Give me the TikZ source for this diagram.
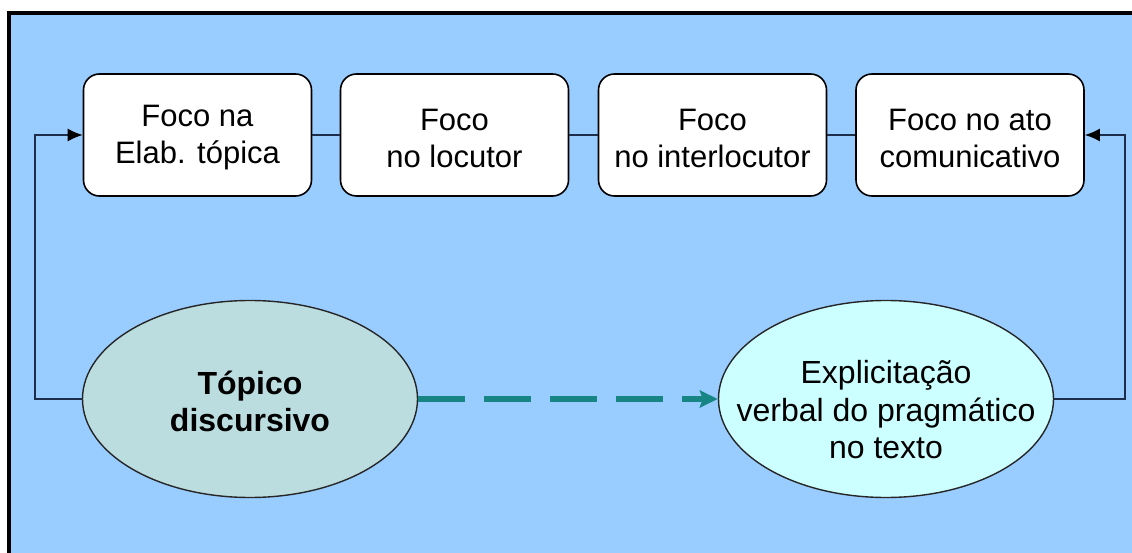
\documentclass[tikz,border=0pt]{standalone}
\usepackage{fontspec}
\setmainfont{Liberation Sans}
\usetikzlibrary{shapes.geometric,arrows.meta}
\definecolor{panelblue}{HTML}{99CCFF}
\definecolor{topicfill}{HTML}{BCDDDF}
\definecolor{explfill}{HTML}{CCFFFF}
\definecolor{linkcol}{HTML}{1E2E4A}
\definecolor{dashteal}{HTML}{178584}
\tikzset{
  focusbox/.style={draw=black, line width=1.6pt, fill=white, rounded corners=16pt,
    minimum width=228pt, minimum height=122pt, inner sep=0pt},
  boxtext/.style={inner sep=0pt, align=center, font=\fontsize{31}{37}\selectfont},
  oval/.style={ellipse, draw=black!85, line width=1.4pt, minimum width=335pt,
    minimum height=197pt, inner sep=0pt},
  ovaltext/.style={inner sep=0pt, align=center, font=\fontsize{32}{37.5}\selectfont},
  link/.style={draw=linkcol, line width=1.6pt},
  looparrow/.style={link, -{Latex[length=15pt,width=13pt,color=black]}},
  dashlink/.style={draw=dashteal, line width=6pt, dash pattern=on 47pt off 19pt,
    -{Stealth[length=18pt,width=17pt,inset=3pt]}}
}
\begin{document}
\begin{tikzpicture}[x=1pt,y=-1pt]
  \useasboundingbox (0,0) rectangle (1132,553);
  % panel with black top and left edges
  \fill[white] (0,0) rectangle (1132,553);
  \fill[panelblue] (9,13) rectangle (1132,553);
  \draw[line width=3.5pt] (9,553) -- (9,13) -- (1132,13);

  % row of focus boxes
  \node[focusbox] (b1) at (197.5,135) {};
  \node[focusbox] (b2) at (454.5,135) {};
  \node[focusbox] (b3) at (712.5,135) {};
  \node[focusbox] (b4) at (970,135) {};
  \node[boxtext] (b1t) at ([yshift=-3pt]b1.center) {Foco na\\Elab. tópica};
  \node[boxtext] (b2t) at ([yshift=-3pt]b2.center) {Foco\\no locutor};
  \node[boxtext] (b3t) at ([yshift=-3pt]b3.center) {Foco\\no interlocutor};
  \node[boxtext] (b4t) at ([yshift=-3pt]b4.center) {Foco no ato\\comunicativo};

  % lower ovals
  \node[oval, fill=topicfill] (t) at (250,399) {};
  \node[oval, fill=explfill] (e) at (886,399) {};
  \node[ovaltext, font=\fontsize{32}{37}\selectfont\bfseries] (tt) at ([yshift=-2pt]t.center) {Tópico\\discursivo};
  \node[ovaltext] (et) at ([yshift=-11pt]e.center) {Explicitação\\verbal do pragmático\\no texto};

  % links between boxes
  \draw[link] (b1) -- (b2);
  \draw[link] (b2) -- (b3);
  \draw[link] (b3) -- (b4);

  % loops from ovals back to the boxes
  \draw[looparrow] (t.west) -- ++(-47pt,0) |- (b1.west);
  \draw[looparrow] (e.east) -- ++(71pt,0) |- (b4.east);

  % dashed connection between the ovals
  \draw[dashlink] (t.east) -- (e.west);
\end{tikzpicture}
\end{document}
